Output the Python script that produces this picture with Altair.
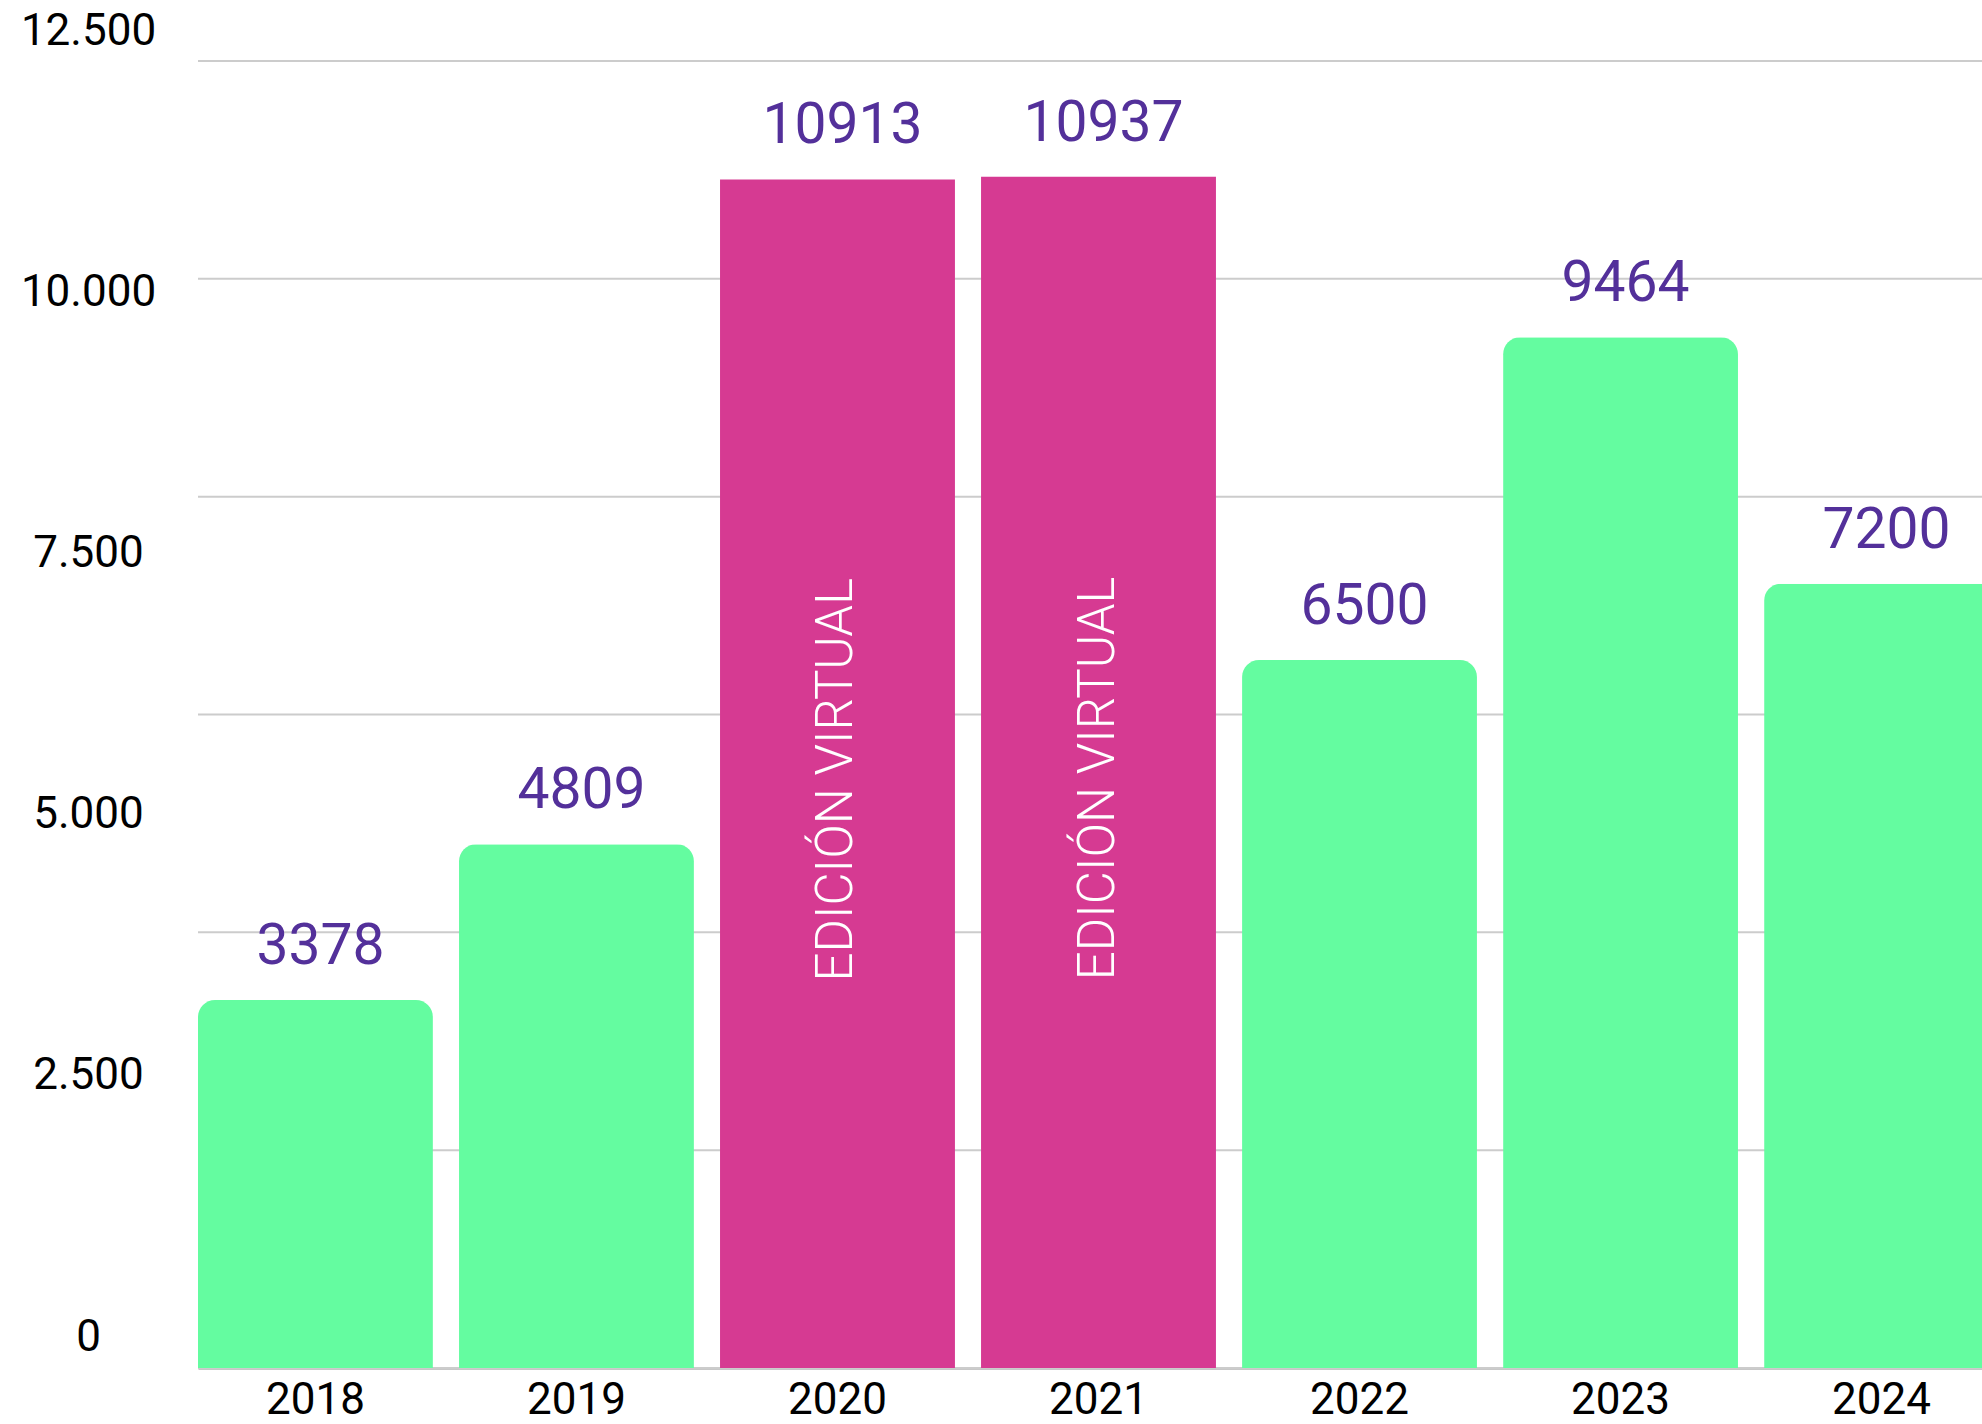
import altair as alt
import pandas as pd

# ---- data ----
years = ["2018", "2019", "2020", "2021", "2022", "2023", "2024"]
attendees = [3378, 4809, 10913, 10937, 6500, 9464, 7200]
is_virtual = [False, False, True, True, False, False, False]
virtual_label = "EDICIÓN VIRTUAL"
y_tick_labels = [0, 2500, 5000, 7500, 10000, 12500]
grid_values = [0, 2000, 4000, 6000, 8000, 10000, 12000]

GREEN = "#64fca0"
MAGENTA = "#d63a92"
PURPLE = "#53309a"
FONT = "Roboto"

df = pd.DataFrame({"year": years, "value": attendees, "virtual": is_virtual})
ticks_df = pd.DataFrame({"tick": y_tick_labels})
grid_df = pd.DataFrame({"g": grid_values})

x = alt.X(
    "year:N",
    sort=years,
    scale=alt.Scale(range=[0, 1801], paddingInner=0.1, paddingOuter=0),
    axis=alt.Axis(
        title=None, labelAngle=0, labelFont=FONT, labelFontSize=44,
        labelColor="#000000", labelPadding=10, ticks=False, tickSize=0,
        domainColor="#8f8f8f", domainWidth=2,
    ),
)

y_scale = alt.Scale(domain=[0, 12000], nice=False, zero=True)

grid = alt.Chart(grid_df).mark_rule(color="#cccccc", strokeWidth=2).encode(
    y=alt.Y("g:Q", scale=y_scale, axis=None)
)

base = alt.Chart(df)

green = base.transform_filter("!datum.virtual").mark_bar(
    color=GREEN, cornerRadiusTopLeft=17, cornerRadiusTopRight=17
).encode(x=x, y=alt.Y("value:Q", scale=y_scale, axis=None))

magenta = base.transform_filter("datum.virtual").mark_bar(
    color=MAGENTA
).encode(x=x, y=alt.Y("value:Q", scale=y_scale, axis=None))

values_text = base.mark_text(
    font=FONT, fontSize=57, color=PURPLE, baseline="alphabetic", dy=-36, dx=5
).encode(
    x=x,
    y=alt.Y("value:Q", scale=y_scale, axis=None),
    text=alt.Text("value:Q", format="d"),
)

virtual_text = base.transform_filter("datum.virtual").transform_calculate(
    mid="datum.value / 2"
).mark_text(
    text=virtual_label, angle=270, font=FONT, fontWeight=300, fontSize=51,
    color="white", baseline="middle", align="center", dx=-6,
).encode(x=x, y=alt.Y("mid:Q", scale=y_scale, axis=None))

inner = alt.layer(grid, green, magenta, values_text, virtual_text)

label_axis = alt.Chart(ticks_df).mark_point(opacity=0).encode(
    y=alt.Y(
        "tick:Q",
        scale=alt.Scale(domain=[0, 12500], range=[1276, -30], nice=False),
        axis=alt.Axis(
            title=None, orient="left", values=y_tick_labels, grid=False,
            ticks=False, tickSize=0, domain=False, labelFont=FONT,
            labelFontSize=44, labelColor="#000000", labelAlign="center",
            labelBaseline="middle", labelPadding=110,
            labelExpr="replace(format(datum.value, ','), ',', '.')",
        ),
    )
)

chart = alt.layer(inner, label_axis).resolve_scale(y="independent").properties(
    width=1784,
    height=1307,
    autosize=alt.AutoSizeParams(type="none"),
    padding={"left": 198, "top": 61, "right": 0, "bottom": 56},
    background="white",
).configure_view(stroke=None)

chart.save("out.html", embed_options={"renderer": "svg", "actions": False})
